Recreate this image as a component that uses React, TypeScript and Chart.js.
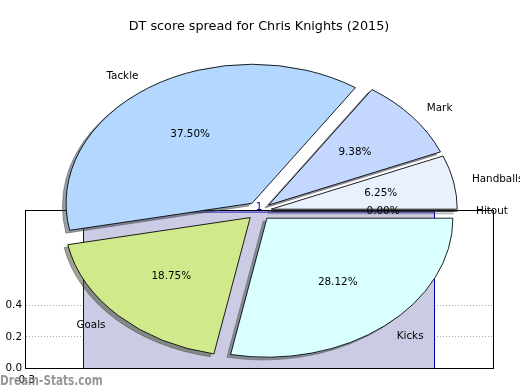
import React, { useEffect, useRef } from 'react';
import { Chart, registerables } from 'chart.js';

Chart.register(...registerables);

// ---------- data ----------
const TITLE = 'DT score spread for Chris Knights (2015)';
// pie slices listed clockwise on screen, starting at 3 o'clock
const SLICE_LABELS = ['Kicks', 'Goals', 'Tackle', 'Mark', 'Handballs', 'Hitout'];
const SLICE_VALUES = [9, 6, 12, 3, 2, 0];
const SLICE_COLORS = ['#d9ffff', '#d0ea8b', '#b3d7ff', '#c4d8ff', '#e9f1ff', '#eef2ff'];

// background area (single block of height 1)
const AREA_X = [-0.1, -0.1, 1.1, 1.1];
const AREA_Y = [0, 1, 1, 0];
const AREA_NOTE_X = 0.5;
const AREA_NOTE_Y = 1;
const AREA_NOTE_TEXT = '1';
const X_TICKS = [-0.3];
const Y_TICKS = [0, 0.2, 0.4];
const WATERMARK = 'Dream-Stats.com';

// ---------- style ----------
const FONT = 'DejaVu Sans';
const PIE_RX = 186;
const PIE_RY = 139;
const SY = PIE_RY / PIE_RX;
const EXPLODE = 0.067;
const SHADOW_DX = -3.7;
const SHADOW_DY = 2.8;

Chart.defaults.font.family = FONT;

function pctText(v: number, total: number): string {
  const x = (v / total) * 100 * 100;
  const f = Math.floor(x);
  const d = x - f;
  let n = f;
  if (d > 0.5 + 1e-9) n = f + 1;
  else if (Math.abs(d - 0.5) <= 1e-9) n = f % 2 === 0 ? f : f + 1;
  return (n / 100).toFixed(2) + '%';
}

function shadowColor(hex: string): string {
  const h = hex.replace('#', '');
  const r = parseInt(h.slice(0, 2), 16);
  const g = parseInt(h.slice(2, 4), 16);
  const b = parseInt(h.slice(4, 6), 16);
  return `rgba(${Math.round(r * 0.3)},${Math.round(g * 0.3)},${Math.round(b * 0.3)},0.5)`;
}

const piePlugin = {
  id: 'piePlugin',
  afterDatasetsUpdate(chart: any) {
    const meta = chart.getDatasetMeta(0);
    meta.data.forEach((arc: any) => {
      const mid = (arc.startAngle + arc.endAngle) / 2;
      const d = EXPLODE * arc.outerRadius;
      arc.x += Math.cos(mid) * d;
      arc.y += Math.sin(mid) * d;
    });
  },
  beforeDatasetsDraw(chart: any) {
    const { ctx, chartArea } = chart;
    const cy = (chartArea.top + chartArea.bottom) / 2;
    const meta = chart.getDatasetMeta(0);
    const colors = chart.data.datasets[0].backgroundColor as string[];
    ctx.save();
    ctx.translate(0, cy);
    ctx.scale(1, SY);
    ctx.translate(0, -cy);
    // shadows under every wedge
    meta.data.forEach((arc: any, i: number) => {
      const col = shadowColor(colors[i]);
      ctx.save();
      ctx.translate(SHADOW_DX, SHADOW_DY / SY);
      ctx.fillStyle = col;
      ctx.strokeStyle = col;
      ctx.lineWidth = 1;
      ctx.lineJoin = 'miter';
      ctx.beginPath();
      ctx.moveTo(arc.x, arc.y);
      if (arc.endAngle - arc.startAngle === 0) {
        ctx.lineTo(arc.x + Math.cos(arc.startAngle) * arc.outerRadius, arc.y + Math.sin(arc.startAngle) * arc.outerRadius);
        ctx.lineWidth = 1.5;
        ctx.stroke();
      } else {
        ctx.arc(arc.x, arc.y, arc.outerRadius, arc.startAngle, arc.endAngle);
        ctx.closePath();
        ctx.fill();
        ctx.stroke();
      }
      ctx.restore();
    });
  },
  afterDatasetsDraw(chart: any) {
    const { ctx, chartArea } = chart;
    const cy = (chartArea.top + chartArea.bottom) / 2;
    const meta = chart.getDatasetMeta(0);
    // zero-size wedges drawn as a single edge line
    meta.data.forEach((arc: any) => {
      if (arc.endAngle - arc.startAngle === 0) {
        ctx.save();
        ctx.strokeStyle = '#000';
        ctx.lineWidth = 1.3;
        ctx.beginPath();
        ctx.moveTo(arc.x, arc.y);
        ctx.lineTo(arc.x + Math.cos(arc.startAngle) * arc.outerRadius, arc.y + Math.sin(arc.startAngle) * arc.outerRadius);
        ctx.stroke();
        ctx.restore();
      }
    });
    ctx.restore();

    const values = chart.data.datasets[0].data as number[];
    const total = values.reduce((a, b) => a + b, 0);
    const map = (x: number, y: number) => [x, cy + (y - cy) * SY];
    ctx.save();
    ctx.fillStyle = '#000';
    ctx.font = `10.4px "${FONT}"`;
    ctx.textBaseline = 'middle';
    meta.data.forEach((arc: any, i: number) => {
      const mid = (arc.startAngle + arc.endAngle) / 2;
      const r = arc.outerRadius;
      const c = Math.cos(mid);
      const s = Math.sin(mid);
      const [lx, ly] = map(arc.x + c * r * 1.1, arc.y + s * r * 1.1);
      ctx.textAlign = c > 0 ? 'left' : 'right';
      ctx.fillText(chart.data.labels[i], lx, ly);
      const [px, py] = map(arc.x + c * r * 0.6, arc.y + s * r * 0.6);
      ctx.textAlign = 'center';
      ctx.fillText(pctText(values[i], total), px, py);
    });
    ctx.restore();
  },
  afterDraw(chart: any) {
    const { ctx } = chart;
    ctx.save();
    ctx.font = `bold 10.5px "${FONT}"`;
    ctx.fillStyle = 'rgba(125,125,125,0.8)';
    ctx.textAlign = 'left';
    ctx.textBaseline = 'alphabetic';
    ctx.translate(0, 385);
    ctx.scale(1, 1.4);
    ctx.fillText(WATERMARK, 0, 0);
    ctx.restore();
  },
};

const backPlugin = {
  id: 'backPlugin',
  afterDraw(chart: any) {
    const { ctx, chartArea, scales } = chart;
    ctx.save();
    ctx.strokeStyle = '#000';
    ctx.lineWidth = 1;
    ctx.strokeRect(chartArea.left + 0.5, chartArea.top + 0.5, chartArea.right - chartArea.left, chartArea.bottom - chartArea.top);
    ctx.fillStyle = '#0000b0';
    ctx.font = `10.4px "${FONT}"`;
    ctx.textAlign = 'center';
    ctx.textBaseline = 'alphabetic';
    ctx.fillText(AREA_NOTE_TEXT, scales.x.getPixelForValue(AREA_NOTE_X), scales.y.getPixelForValue(AREA_NOTE_Y) - 2);
    ctx.restore();
  },
};

export default function App() {
  const backRef = useRef<HTMLCanvasElement>(null);
  const pieRef = useRef<HTMLCanvasElement>(null);

  useEffect(() => {
    const tickFont = { family: FONT, size: 10.4 };
    const back = new Chart(backRef.current as HTMLCanvasElement, {
      type: 'line',
      data: {
        datasets: [
          {
            data: AREA_X.map((x, i) => ({ x, y: AREA_Y[i] })),
            borderColor: '#0000b0',
            borderWidth: 1,
            backgroundColor: '#cbcbe3',
            fill: 'origin',
            pointRadius: 0,
            tension: 0,
          },
        ],
      },
      options: {
        animation: false,
        responsive: false,
        events: [],
        layout: { padding: { top: 210, right: 27, left: 0, bottom: 0 } },
        plugins: { legend: { display: false }, tooltip: { enabled: false } },
        scales: {
          x: {
            type: 'linear',
            min: -0.3,
            max: 1.3,
            afterBuildTicks: (s: any) => {
              s.ticks = X_TICKS.map((v) => ({ value: v }));
            },
            afterFit: (s: any) => {
              s.height = 22;
            },
            grid: { display: false },
            border: { display: true, color: '#000', width: 1 },
            ticks: {
              color: '#000',
              font: tickFont,
              padding: -2,
              maxRotation: 0,
              autoSkip: false,
              callback: (v: any) => Number(v).toFixed(1),
            },
          },
          y: {
            type: 'linear',
            min: 0,
            max: 1.013,
            afterBuildTicks: (s: any) => {
              s.ticks = Y_TICKS.map((v) => ({ value: v }));
            },
            afterFit: (s: any) => {
              s.width = 25;
            },
            grid: { color: '#a8a8a8', drawTicks: false, lineWidth: 1 },
            border: { display: true, color: '#000', width: 1, dash: [1, 2] },
            ticks: {
              color: '#000',
              font: tickFont,
              padding: 3,
              autoSkip: false,
              callback: (v: any) => Number(v).toFixed(1),
            },
          },
        },
      },
      plugins: [backPlugin],
    } as any);

    const pie = new Chart(pieRef.current as HTMLCanvasElement, {
      type: 'pie',
      data: {
        labels: SLICE_LABELS,
        datasets: [
          {
            data: SLICE_VALUES,
            backgroundColor: SLICE_COLORS,
            borderColor: '#000',
            borderWidth: 1,
            borderJoinStyle: 'miter',
            radius: PIE_RX,
            clip: false,
          },
        ],
      },
      options: {
        animation: false,
        responsive: false,
        events: [],
        rotation: 90,
        layout: { padding: { left: 0, right: 2, top: 14.3, bottom: 7.66 } },
        plugins: {
          legend: { display: false },
          tooltip: { enabled: false },
          title: {
            display: true,
            text: TITLE,
            color: '#000',
            font: { family: FONT, size: 12.8, weight: 'normal', lineHeight: 1.2 },
            padding: 5,
          },
        },
      },
      plugins: [piePlugin],
    } as any);

    return () => {
      back.destroy();
      pie.destroy();
    };
  }, []);

  return (
    <div style={{ position: 'fixed', left: 0, top: 0, width: 520, height: 390, background: '#fff' }}>
      <canvas ref={backRef} width={520} height={390} style={{ position: 'absolute', left: 0, top: 0, width: 520, height: 390 }} />
      <canvas ref={pieRef} width={520} height={390} style={{ position: 'absolute', left: 0, top: 0, width: 520, height: 390 }} />
    </div>
  );
}
